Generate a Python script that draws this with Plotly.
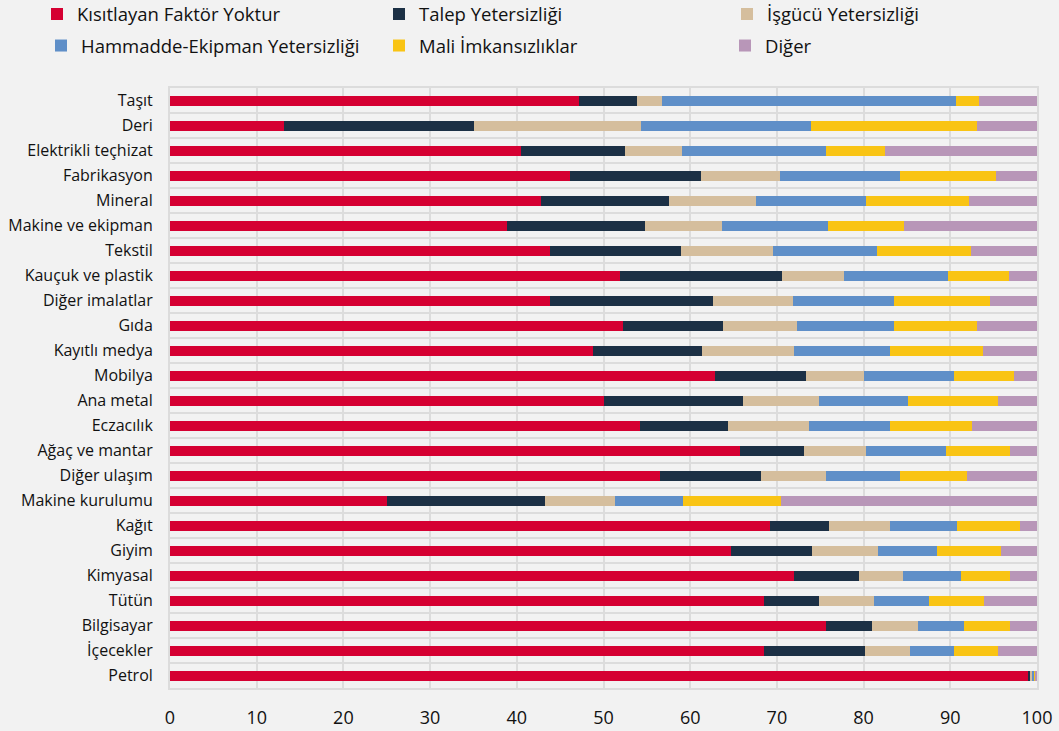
import plotly.graph_objects as go

categories = ["Taşıt", "Deri", "Elektrikli teçhizat", "Fabrikasyon", "Mineral",
              "Makine ve ekipman", "Tekstil", "Kauçuk ve plastik", "Diğer imalatlar",
              "Gıda", "Kayıtlı medya", "Mobilya", "Ana metal", "Eczacılık",
              "Ağaç ve mantar", "Diğer ulaşım", "Makine kurulumu", "Kağıt", "Giyim",
              "Kimyasal", "Tütün", "Bilgisayar", "İçecekler", "Petrol"]

kisitlayan_yok = [47.2, 13.1, 40.5, 46.1, 42.8, 38.9, 43.8, 51.9, 43.8, 52.2, 48.8, 62.9,
                  50.1, 54.2, 65.7, 56.5, 25.0, 69.2, 64.7, 72.0, 68.5, 75.7, 68.5, 99.0]
talep = [6.7, 22.0, 12.0, 15.1, 14.8, 15.9, 15.1, 18.7, 18.8, 11.6, 12.6, 10.4,
         16.0, 10.2, 7.4, 11.7, 18.3, 6.8, 9.3, 7.5, 6.3, 5.3, 11.7, 0.3]
isgucu = [2.9, 19.2, 6.5, 9.1, 10.0, 8.9, 10.6, 7.1, 9.3, 8.5, 10.6, 6.8,
          8.7, 9.3, 7.2, 7.5, 8.0, 7.0, 7.7, 5.0, 6.4, 5.3, 5.1, 0.2]
hammadde = [33.8, 19.6, 16.7, 13.9, 12.7, 12.2, 12.1, 12.0, 11.6, 11.2, 11.1, 10.3,
            10.3, 9.4, 9.2, 8.5, 7.9, 7.8, 6.8, 6.7, 6.3, 5.3, 5.1, 0.2]
mali = [2.7, 19.2, 6.8, 11.1, 11.8, 8.8, 10.8, 7.1, 11.1, 9.6, 10.7, 7.0,
        10.4, 9.4, 7.4, 7.7, 11.3, 7.2, 7.4, 5.7, 6.4, 5.3, 5.1, 0.1]
diger = [6.7, 6.9, 17.5, 4.7, 7.9, 15.3, 7.6, 3.2, 5.4, 6.9, 6.2, 2.6,
         4.5, 7.5, 3.1, 8.1, 29.5, 2.0, 4.1, 3.1, 6.1, 3.1, 4.5, 0.2]

series_names = ["Kısıtlayan Faktör Yoktur", "Talep Yetersizliği", "İşgücü Yetersizliği",
                "Hammadde-Ekipman Yetersizliği", "Mali İmkansızlıklar", "Diğer"]
series_values = [kisitlayan_yok, talep, isgucu, hammadde, mali, diger]
colors = ["#D50032", "#1C3045", "#D5BE9D", "#5F8FC8", "#F9C414", "#B896B8"]

x_ticks = list(range(0, 101, 10))

# layout geometry (pixels)
W, H = 1059, 731
ML, MR, MT, MB = 170, 22, 88, 43
PW, PH = W - ML - MR, H - MT - MB
# legend text start x and row centre y for each entry (pixels)
leg_text_x = [79, 421, 769, 83, 421, 767]
leg_row_y = [14.5, 14.5, 14.5, 46, 46, 46]
TEXT_OFFSET = 42

FONT = "Open Sans"
fig = go.Figure()
legend_layout = {}
for i, (name, vals, col) in enumerate(zip(series_names, series_values, colors)):
    lid = f"legend{i + 2}"
    fig.add_trace(go.Bar(
        y=categories, x=vals, name=name, orientation="h",
        marker=dict(color=col, line=dict(width=0)),
        legend=lid, showlegend=True,
    ))
    legend_layout[lid] = dict(
        orientation="h", xanchor="left", yanchor="middle",
        x=(leg_text_x[i] - TEXT_OFFSET - ML) / PW,
        y=1 + (MT - leg_row_y[i]) / PH,
        font=dict(family=FONT, size=18.5, color="#111111"),
        bgcolor="rgba(0,0,0,0)", itemclick=False, itemdoubleclick=False,
    )

fig.update_layout(
    width=W, height=H, showlegend=True,
    barmode="stack", bargap=0.6,
    paper_bgcolor="#F2F2F2", plot_bgcolor="#F2F2F2",
    margin=dict(l=ML, r=MR, t=MT, b=MB, autoexpand=False),
    font=dict(family=FONT, size=16, color="#111111"),
    xaxis=dict(
        range=[0, 100], tickvals=x_ticks, ticktext=[str(v) for v in x_ticks],
        showgrid=True, gridcolor="#DCDCDC", gridwidth=2, zeroline=False,
        showline=True, linecolor="#DCDCDC", linewidth=2, mirror=True,
        tickfont=dict(family=FONT, size=18, color="#111111"),
        ticks="", ticklabelstandoff=12, fixedrange=True,
    ),
    yaxis=dict(
        type="category", autorange="reversed",
        tickson="boundaries", showgrid=True, gridcolor="#DCDCDC", gridwidth=2,
        showline=True, linecolor="#DCDCDC", linewidth=2, mirror=True,
        tickfont=dict(family=FONT, size=16, color="#111111"),
        ticks="", ticklabelstandoff=12, fixedrange=True,
    ),
    **legend_layout,
)

fig.write_html(
    "out.html",
    config={"displayModeBar": False},
    post_script="document.body.style.margin='0';document.body.style.background='#F2F2F2';",
)
